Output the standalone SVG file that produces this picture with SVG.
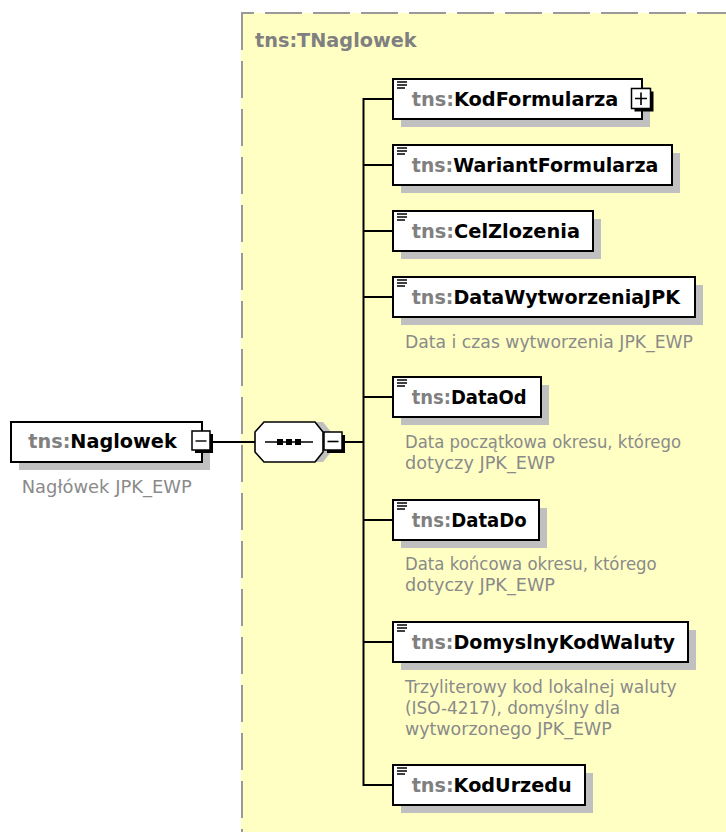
<svg xmlns="http://www.w3.org/2000/svg" width="726" height="832" viewBox="0 0 726 832">
<style>
.bx{fill:#fff;stroke:#000;stroke-width:2}
.sh{fill:#c0c0c0}
.nt{font-family:"DejaVu Sans",sans-serif;font-weight:bold;font-size:19px;fill:#000}
.pf{fill:#808080}
.an{font-family:"DejaVu Sans",sans-serif;font-size:17px;fill:#8a8a8a}
.ic{stroke:#000;stroke-width:1.4}
.cn{stroke:#000;stroke-width:2;fill:none}
.btn{fill:#fff;stroke:#000;stroke-width:1.5}
.bsh{fill:#000}
</style>
<rect width="726" height="832" fill="#fff"/>
<g id="container">
<rect x="241" y="13" width="600" height="900" fill="#ffffc4"/>
<line x1="241" y1="13" x2="726" y2="13" stroke="#999" stroke-width="2" stroke-dasharray="37 11" stroke-dashoffset="24"/>
<line x1="242" y1="13" x2="242" y2="832" stroke="#999" stroke-width="2" stroke-dasharray="37 11" stroke-dashoffset="0"/>
<text x="255" y="46.5" class="nt" fill="#808080" style="fill:#808080" textLength="161.7" lengthAdjust="spacingAndGlyphs">tns:TNaglowek</text>
</g>
<g id="connectors">
<line class="cn" x1="213" y1="442" x2="255" y2="442"/>
<line class="cn" x1="345" y1="442" x2="363.5" y2="442"/>
<line class="cn" x1="363.5" y1="98" x2="363.5" y2="786"/>
<line class="cn" x1="363.5" y1="99" x2="393" y2="99"/>
<line class="cn" x1="363.5" y1="165" x2="393" y2="165"/>
<line class="cn" x1="363.5" y1="231" x2="393" y2="231"/>
<line class="cn" x1="363.5" y1="297" x2="393" y2="297"/>
<line class="cn" x1="363.5" y1="397" x2="393" y2="397"/>
<line class="cn" x1="363.5" y1="520" x2="393" y2="520"/>
<line class="cn" x1="363.5" y1="642" x2="393" y2="642"/>
<line class="cn" x1="363.5" y1="785" x2="393" y2="785"/>
</g>
<g id="Naglowek">
<rect class="sh" x="19" y="430" width="191" height="40"/>
<rect class="bx" x="11" y="422" width="191" height="40"/>
<text class="nt" x="28.3" y="448" textLength="148.4" lengthAdjust="spacingAndGlyphs"><tspan class="pf">tns:</tspan>Naglowek</text>
<rect class="bsh" x="195" y="434" width="18" height="19"/>
<rect class="btn" x="192" y="431" width="18" height="19"/>
<line class="ic" x1="195.5" y1="441" x2="206.5" y2="441" stroke-width="1.6"/>
<text class="an" x="21.7" y="493" textLength="170" lengthAdjust="spacingAndGlyphs">Nagłówek JPK_EWP</text>
</g>
<g id="sequence">
<polygon points="263,432 272,422 323,422 331,432 331,452 323,462 272,462 263,452" fill="#c0c0c0"/>
<polygon points="255,432 264,422 315,422 323,432 323,452 315,462 264,462 255,452" fill="#fff" stroke="#000" stroke-width="1.6"/>
<line x1="265" y1="442" x2="313" y2="442" stroke="#000" stroke-width="1.5"/>
<rect x="277" y="439" width="6" height="6" fill="#000"/>
<rect x="286" y="439" width="6" height="6" fill="#000"/>
<rect x="295" y="439" width="6" height="6" fill="#000"/>
<rect class="bsh" x="327" y="435" width="18" height="18"/>
<rect class="btn" x="324" y="432" width="18" height="18"/>
<line x1="327.5" y1="441.5" x2="338.5" y2="441.5" stroke="#000" stroke-width="1.6"/>
</g>
<g id="KodFormularza">
<rect class="sh" x="401" y="87" width="249" height="40"/>
<rect class="bx" x="393" y="79" width="249" height="40"/>
<path class="ic" d="M397 82h10M397 85h10M397 88h8"/>
<text class="nt" x="411.7" y="105.5" textLength="206.6" lengthAdjust="spacingAndGlyphs"><tspan class="pf">tns:</tspan>KodFormularza</text>
<rect class="bsh" x="634.5" y="91.5" width="19" height="20"/>
<rect class="btn" x="631.5" y="88.5" width="19" height="20"/>
<path d="M635 98.5h12M641 92.5v12.5" stroke="#000" stroke-width="1.6"/>
</g>
<g id="WariantFormularza">
<rect class="sh" x="401" y="153" width="279" height="40"/>
<rect class="bx" x="393" y="145" width="279" height="40"/>
<path class="ic" d="M397 148h10M397 151h10M397 154h8"/>
<text class="nt" x="411.7" y="171.5" textLength="246.6" lengthAdjust="spacingAndGlyphs"><tspan class="pf">tns:</tspan>WariantFormularza</text>
</g>
<g id="CelZlozenia">
<rect class="sh" x="401" y="219" width="200" height="40"/>
<rect class="bx" x="393" y="211" width="200" height="40"/>
<path class="ic" d="M397 214h10M397 217h10M397 220h8"/>
<text class="nt" x="411.7" y="237.5" textLength="168.3" lengthAdjust="spacingAndGlyphs"><tspan class="pf">tns:</tspan>CelZlozenia</text>
</g>
<g id="DataWytworzeniaJPK">
<rect class="sh" x="401" y="285" width="302" height="40"/>
<rect class="bx" x="393" y="277" width="302" height="40"/>
<path class="ic" d="M397 280h10M397 283h10M397 286h8"/>
<text class="nt" x="411.7" y="303.5" textLength="268.3" lengthAdjust="spacingAndGlyphs"><tspan class="pf">tns:</tspan>DataWytworzeniaJPK</text>
<text class="an" x="405" y="348" textLength="288" lengthAdjust="spacingAndGlyphs">Data i czas wytworzenia JPK_EWP</text>
</g>
<g id="DataOd">
<rect class="sh" x="401" y="385" width="148" height="40"/>
<rect class="bx" x="393" y="377" width="148" height="40"/>
<path class="ic" d="M397 380h10M397 383h10M397 386h8"/>
<text class="nt" x="411.7" y="403.5" textLength="115" lengthAdjust="spacingAndGlyphs"><tspan class="pf">tns:</tspan>DataOd</text>
<text class="an" x="405" y="448" textLength="276" lengthAdjust="spacingAndGlyphs">Data początkowa okresu, którego</text>
<text class="an" x="405" y="469" textLength="150" lengthAdjust="spacingAndGlyphs">dotyczy JPK_EWP</text>
</g>
<g id="DataDo">
<rect class="sh" x="401" y="508" width="146" height="40"/>
<rect class="bx" x="393" y="500" width="146" height="40"/>
<path class="ic" d="M397 503h10M397 506h10M397 509h8"/>
<text class="nt" x="411.7" y="526.5" textLength="115" lengthAdjust="spacingAndGlyphs"><tspan class="pf">tns:</tspan>DataDo</text>
<text class="an" x="405" y="570" textLength="251.7" lengthAdjust="spacingAndGlyphs">Data końcowa okresu, którego</text>
<text class="an" x="405" y="591" textLength="150" lengthAdjust="spacingAndGlyphs">dotyczy JPK_EWP</text>
</g>
<g id="DomyslnyKodWaluty">
<rect class="sh" x="401" y="630" width="295" height="40"/>
<rect class="bx" x="393" y="622" width="295" height="40"/>
<path class="ic" d="M397 625h10M397 628h10M397 631h8"/>
<text class="nt" x="411.7" y="648.5" textLength="263.3" lengthAdjust="spacingAndGlyphs"><tspan class="pf">tns:</tspan>DomyslnyKodWaluty</text>
<text class="an" x="405" y="693" textLength="271.7" lengthAdjust="spacingAndGlyphs">Trzyliterowy kod lokalnej waluty</text>
<text class="an" x="405" y="714" textLength="215" lengthAdjust="spacingAndGlyphs">(ISO-4217), domyślny dla</text>
<text class="an" x="405" y="735" textLength="206.7" lengthAdjust="spacingAndGlyphs">wytworzonego JPK_EWP</text>
</g>
<g id="KodUrzedu">
<rect class="sh" x="401" y="773" width="192" height="40"/>
<rect class="bx" x="393" y="765" width="192" height="40"/>
<path class="ic" d="M397 768h10M397 771h10M397 774h8"/>
<text class="nt" x="411.7" y="791.5" textLength="160" lengthAdjust="spacingAndGlyphs"><tspan class="pf">tns:</tspan>KodUrzedu</text>
</g>
</svg>
